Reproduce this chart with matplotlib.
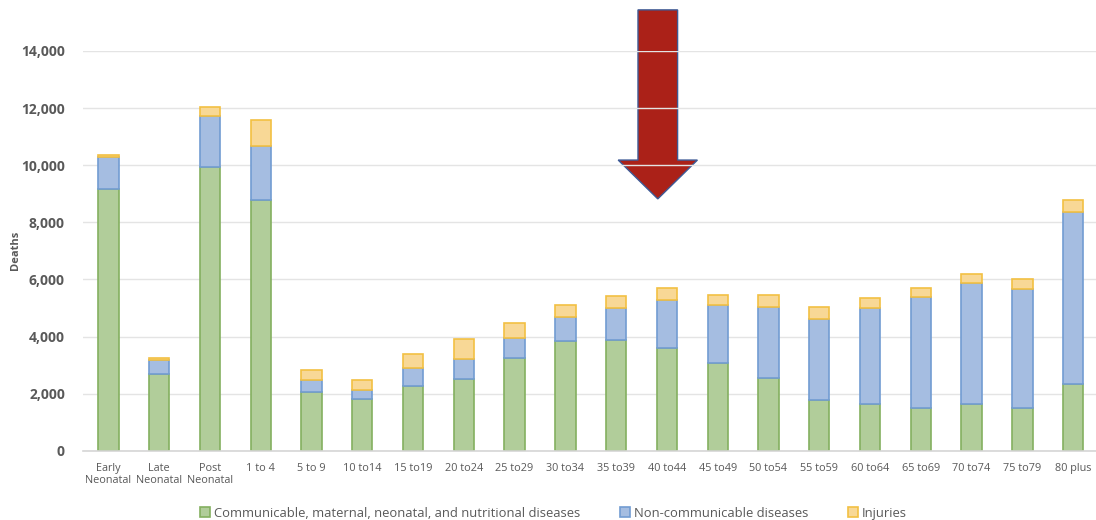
import matplotlib.pyplot as plt
from matplotlib.patches import Polygon
import numpy as np

age_groups = ["Early\nNeonatal", "Late\nNeonatal", "Post\nNeonatal", "1 to 4", "5 to 9",
              "10 to14", "15 to19", "20 to24", "25 to29", "30 to34", "35 to39",
              "40 to44", "45 to49", "50 to54", "55 to59", "60 to64", "65 to69",
              "70 to74", "75 to79", "80 plus"]

communicable = [9180, 2690, 9920, 8790, 2070, 1800, 2250, 2520, 3250, 3830,
                3880, 3600, 3070, 2560, 1780, 1640, 1510, 1640, 1510, 2330]
non_communicable = [1120, 480, 1800, 1890, 390, 340, 630, 680, 710, 860,
                    1120, 1680, 2030, 2490, 2850, 3360, 3870, 4230, 4170, 6020]
injuries = [50, 60, 320, 890, 380, 350, 520, 700, 520, 420,
            420, 420, 370, 420, 390, 340, 330, 330, 330, 420]

series_names = ["Communicable, maternal, neonatal, and nutritional diseases",
                "Non-communicable diseases", "Injuries"]
fills = ["#b1cd9a", "#a5bde1", "#f8d896"]
edges = ["#84b060", "#729cd2", "#f2c043"]

text_color = "#595959"
plt.rcParams["font.family"] = ["Open Sans", "DejaVu Sans"]

fig = plt.figure(figsize=(10.96, 5.2), dpi=100)
ax = fig.add_axes([83 / 1096, 69.3 / 520, 1013 / 1096, 399.7 / 520])

x = np.arange(len(age_groups))
bottom = np.zeros(len(age_groups))
for vals, name, fc, ec in zip([communicable, non_communicable, injuries], series_names, fills, edges):
    ax.bar(x, vals, width=0.4, bottom=bottom, color=fc, edgecolor=ec,
           linewidth=1.2, label=name, zorder=2)
    bottom += np.array(vals)

ax.set_xlim(-0.5, 19.45)
ax.set_ylim(0, 14000)
ax.set_yticks(range(0, 14001, 2000))
ax.set_yticklabels([f"{v:,}" for v in range(0, 14001, 2000)],
                   fontsize=10, color=text_color, fontweight="bold")
ax.set_xticks(x)
ax.set_xticklabels(age_groups, fontsize=7.8, color=text_color, linespacing=1.15)
ax.tick_params(axis="both", length=0)
ax.tick_params(axis="y", pad=13)
ax.tick_params(axis="x", pad=9)

ax.grid(axis="y", color="#e4e4e4", linewidth=1)
ax.set_axisbelow(True)
for side in ["top", "right", "left"]:
    ax.spines[side].set_visible(False)
ax.spines["bottom"].set_color("#d6d6d6")
ax.spines["bottom"].set_linewidth(1.2)

ax.set_ylabel("Deaths", fontsize=8, color=text_color, fontweight="bold", labelpad=0)

# red arrow pointing at the middle-age groups
cx, sw, hw = 10.82, 0.39, 0.78
arrow = Polygon([(cx - sw, 15440), (cx + sw, 15440), (cx + sw, 10180), (cx + hw, 10180),
                 (cx, 8820), (cx - hw, 10180), (cx - sw, 10180)],
                closed=True, facecolor="#ab2118", edgecolor="#3d5a96",
                linewidth=1.0, clip_on=False, zorder=0.3)
ax.add_patch(arrow)

fig.legend(loc="lower center", bbox_to_anchor=(0.505, -0.022), ncol=3, frameon=False,
           fontsize=9.4, labelcolor=text_color, handlelength=0.8, handleheight=0.8,
           handletextpad=0.3, columnspacing=3.0)

fig.savefig("out.png", dpi=100)
